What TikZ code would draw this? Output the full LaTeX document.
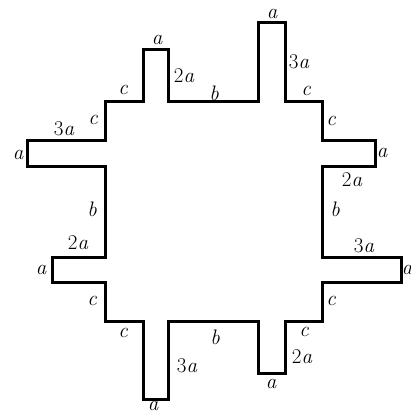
\documentclass[tikz,border=0pt]{standalone}
\begin{document}
\begin{tikzpicture}[x=1pt,y=-1pt,
  outline/.style={line width=3pt,line join=miter},
  lbl/.style={inner sep=0pt,font=\fontsize{21}{25}\selectfont\itshape}]
  \useasboundingbox (0,0) rectangle (411,414);
  \draw[outline] (143,50) -- (168,50) -- (168,102) -- (258,102) -- (258,23)
        -- (285,23) -- (285,102) -- (322,102) -- (322,141) -- (375,141)
        -- (375,166) -- (322,166) -- (322,257) -- (401,257) -- (401,282)
        -- (322,282) -- (322,321) -- (285,321) -- (285,373) -- (258,373)
        -- (258,321) -- (168,321) -- (168,399) -- (143,399) -- (143,321)
        -- (105,321) -- (105,282) -- (52,282) -- (52,257) -- (105,257)
        -- (105,166) -- (27,166) -- (27,141) -- (105,141) -- (105,102)
        -- (143,102) -- cycle;
  \foreach \px/\py/\lab [count=\i] in {157/40/a,184/76/\textup{2}a,123/90/c,
      93/120/c,64/129/\textup{3}a,18/155/a,92/209/b,214/93/b,272/14/a,
      299/62/\textup{3}a,306/91/c,331/121/c,382/153/a,352/180/\textup{2}a,
      335/209/b,364/246/\textup{3}a,407/270/a,331/301/c,304/332/c,
      302/357/\textup{2}a,271/384/a,215/337/b,187/366/\textup{3}a,
      153/405.5/a,123/333/c,92/301/c,41/270/a,78/243/\textup{2}a}
  {
    \node[lbl] (lab\i) at (\px,\py) {\lab};
  }
\end{tikzpicture}
\end{document}
